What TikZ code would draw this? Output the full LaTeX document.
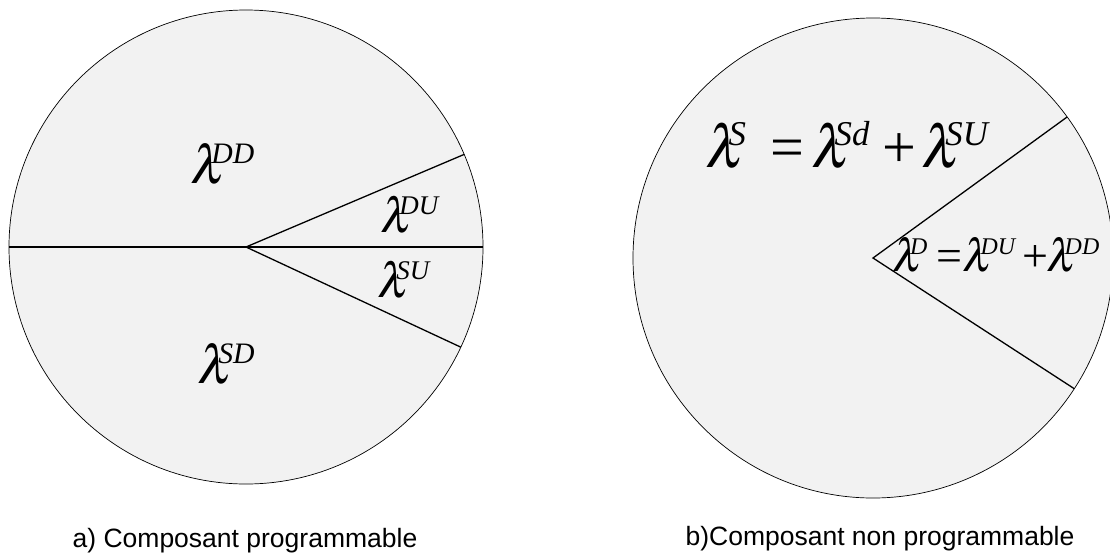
\documentclass[tikz,border=0pt]{standalone}
\usepackage{mathptmx}
\usepackage[no-math]{fontspec}
\setsansfont{Liberation Sans}
\newfontfamily\eqfont{Liberation Serif}
\usetikzlibrary{calc,positioning}
\definecolor{piefill}{HTML}{F2F2F2}
% lambda with a raised italic index, set the way the equation editor does
\newcommand{\lam}[2][.55]{$\lambda$\kern-.28em\raisebox{.36em}{\scalebox{#1}{\eqfont\itshape #2}}}

\begin{document}
\begin{tikzpicture}[
  x=1pt, y=-1pt,
  disc/.style={draw, fill=piefill, line width=0.7pt},
  cut/.style={draw, line width=1.3pt},
  lab/.style={inner sep=0pt, anchor=base west, font=\eqfont},
  caption/.style={inner sep=0pt, anchor=base,
    font=\sffamily\fontsize{26.5}{30}\selectfont},
]
  \useasboundingbox (0,0) rectangle (1110,555);

  % ── Left pie: programmable component ────────────────────────────────────
  \coordinate (cl) at (246,247);
  \path[disc] (cl) circle[radius=237pt];
  \coordinate (clw) at ($(cl)+(180:237pt)$);
  \coordinate (cle) at ($(cl)+(0:237pt)$);
  \coordinate (clu) at ($(cl)+(23:237pt)$);
  \coordinate (cld) at ($(cl)+(-25:237pt)$);
  \draw[cut] (clw) -- (cle);
  \draw[cut] (clu) -- (cl) -- (cld);

  \node[lab] (dd) at (190,183) {\fontsize{54}{60}\selectfont\lam{DD}};
  \node[lab] (du) at (380,232) {\fontsize{49}{54}\selectfont\lam{DU}};
  \node[lab] (su) at (377,297) {\fontsize{49}{54}\selectfont\lam{SU}};
  \node[lab] (sd) at (197,383) {\fontsize{54}{60}\selectfont\lam{SD}};

  % ── Right pie: non programmable component ───────────────────────────────
  \coordinate (cr) at (873,258);
  \path[disc] (cr) circle[radius=240pt];
  \coordinate (cru) at ($(cr)+(36:240pt)$);
  \coordinate (crd) at ($(cr)+(-33:240pt)$);
  \draw[cut] (cru) -- (cr) -- (crd);

  \node[lab] (ls) at (705,167) {\fontsize{60}{66}\selectfont
      \lam[.58]{S}\hspace{.4em}=\hspace{.12em}\lam[.58]{Sd}\hspace{.22em}+\hspace{.09em}\lam[.58]{SU}};
  \node[lab] (ld) at (892,271) {\fontsize{46}{52}\selectfont
      \lam[.52]{D}\hspace{.2em}=\lam[.52]{DU}\hspace{.15em}+\hspace{-.03em}\lam[.52]{DD}};

  % ── Captions ────────────────────────────────────────────────────────────
  \node[caption] (capa) at (245,547) {a) Composant programmable};
  \node[caption] (capb) at (880,545) {b)Composant non programmable};

\end{tikzpicture}
\end{document}
